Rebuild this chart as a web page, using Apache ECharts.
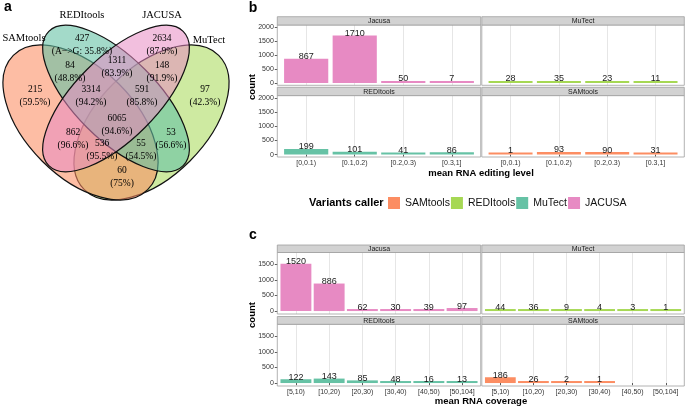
<!DOCTYPE html>
<html><head><meta charset="utf-8">
<script src="https://cdn.jsdelivr.net/npm/echarts@6/dist/echarts.min.js"></script>
<style>html,body{margin:0;padding:0;background:#fff}#chart{width:685px;height:407px}</style>
</head><body><div id="chart"></div>
<script>
// ---------------- data ----------------
const callers = ['SAMtools', 'REDItools', 'MuTect', 'JACUSA'];
// Venn (panel a)
const vennSetNames = ['SAMtools', 'REDItools', 'JACUSA', 'MuTect'];
const vennCounts = ['427', '2634', '84', '1311', '148', '215', '3314', '591', '97', '6065', '862', '53', '536', '55', '60'];
const vennPercents = ['(A\u2212>G: 35.8%)', '(87.9%)', '(48.8%)', '(83.9%)', '(91.9%)', '(59.5%)', '(94.2%)', '(85.8%)', '(42.3%)', '(94.6%)', '(96.6%)', '(56.6%)', '(95.5%)', '(54.5%)', '(75%)'];
// panel b: mean RNA editing level
const editLevels = ['[0,0.1)', '[0.1,0.2)', '[0.2,0.3)', '[0.3,1]'];
const editJacusa = [867, 1710, 50, 7];
const editMuTect = [28, 35, 23, 11];
const editREDItools = [199, 101, 41, 86];
const editSAMtools = [1, 93, 90, 31];
const editTicks = [0, 500, 1000, 1500, 2000];
// panel c: mean RNA coverage
const covLevels = ['[5,10)', '[10,20)', '[20,30)', '[30,40)', '[40,50)', '[50,104]'];
const covJacusa = [1520, 886, 62, 30, 39, 97];
const covMuTect = [44, 36, 9, 4, 3, 1];
const covREDItools = [122, 143, 85, 48, 16, 13];
const covSAMtools = [186, 26, 2, 1, null, null];
const covTicks = [0, 500, 1000, 1500];

// ---------------- layout / style ----------------
const SANS = '"Liberation Sans", Arial, sans-serif';
const SERIF = '"Liberation Serif", "Times New Roman", serif';
const legendColors = {SAMtools: '#fc8d62', REDItools: '#a6d854', MuTect: '#66c2a5', JACUSA: '#e78ac3'};
const barColors = {Jacusa: '#e78ac3', MuTect: '#a6d854', REDItools: '#66c2a5', SAMtools: '#fc8d62'};

// drawing order: MuTect, SAMtools, REDItools, JACUSA
const vennEllipses = [
  {x: 151.5, y: 122.5, rx: 95, ry: 54.4, rot: Math.PI / 4, fill: 'rgba(166,216,84,0.55)'},
  {x: 80.5, y: 122.5, rx: 95, ry: 54.4, rot: -Math.PI / 4, fill: 'rgba(252,141,98,0.58)'},
  {x: 116, y: 98.5, rx: 95, ry: 41, rot: -Math.PI / 4, fill: 'rgba(102,194,165,0.6)'},
  {x: 116, y: 98.5, rx: 95, ry: 41, rot: Math.PI / 4, fill: 'rgba(231,138,195,0.55)'}
];
const vennNamePos = [[24, 38], [82, 15], [162, 15], [209, 40]];
const vennLabelPos = [[82, 38], [162, 38], [70, 65], [117, 60], [162, 65], [35, 89], [91, 89], [142, 89], [205, 89], [117, 118], [73, 132], [171, 132], [102, 143], [141, 143], [122, 170]];

const cols = [[277.3, 480.7], [481.8, 684.3]];
const bRows = [{strip: [16.7, 25], plot: [25, 85.3]}, {strip: [87.3, 95.6], plot: [95.6, 157]}];
const cRows = [{strip: [245, 252.5], plot: [252.5, 314]}, {strip: [316.5, 324.3], plot: [324.3, 386]}];

const panels = [
  {title: 'Jacusa', cats: editLevels, data: editJacusa, row: bRows[0], col: 0, bottom: false, margin: 4.6, gap: '9%', min: -85, max: 2085, ticks: editTicks},
  {title: 'MuTect', cats: editLevels, data: editMuTect, row: bRows[0], col: 1, bottom: false, margin: 4.6, gap: '9%', min: -85, max: 2085, ticks: editTicks},
  {title: 'REDItools', cats: editLevels, data: editREDItools, row: bRows[1], col: 0, bottom: true, margin: 4.6, gap: '9%', min: -85, max: 2085, ticks: editTicks},
  {title: 'SAMtools', cats: editLevels, data: editSAMtools, row: bRows[1], col: 1, bottom: true, margin: 4.6, gap: '9%', min: -85, max: 2085, ticks: editTicks},
  {title: 'Jacusa', cats: covLevels, data: covJacusa, row: cRows[0], col: 0, bottom: false, margin: 2, gap: '7%', min: -95, max: 1885, ticks: covTicks},
  {title: 'MuTect', cats: covLevels, data: covMuTect, row: cRows[0], col: 1, bottom: false, margin: 2, gap: '7%', min: -95, max: 1885, ticks: covTicks},
  {title: 'REDItools', cats: covLevels, data: covREDItools, row: cRows[1], col: 0, bottom: true, margin: 2, gap: '7%', min: -95, max: 1885, ticks: covTicks},
  {title: 'SAMtools', cats: covLevels, data: covSAMtools, row: cRows[1], col: 1, bottom: true, margin: 2, gap: '7%', min: -95, max: 1885, ticks: covTicks}
];
const seriesNameOf = {Jacusa: 'JACUSA', MuTect: 'MuTect', REDItools: 'REDItools', SAMtools: 'SAMtools'};

function txt(text, x, y, font, opts) {
  opts = opts || {};
  return {
    type: 'text', x: x, y: y, rotation: opts.rotation || 0, z: 10,
    style: {text: text, font: font, fill: opts.fill || '#000',
      textAlign: opts.align || 'center', align: opts.align || 'center',
      textVerticalAlign: 'middle', verticalAlign: 'middle'}
  };
}

const grids = [], xAxes = [], yAxes = [], series = [], graphics = [];

panels.forEach((p, i) => {
  const x0 = cols[p.col][0], x1 = cols[p.col][1];
  const pt = p.row.plot[0], pb = p.row.plot[1];
  const st = p.row.strip[0], sb = p.row.strip[1];
  grids.push({left: x0 + p.margin, top: pt, width: (x1 - x0) - 2 * p.margin, height: pb - pt, containLabel: false});
  xAxes.push({
    gridIndex: i, type: 'category', data: p.cats,
    axisLine: {show: false},
    axisTick: {show: p.bottom, alignWithLabel: true, length: 2, lineStyle: {color: '#333', width: 0.8}},
    axisLabel: {show: p.bottom, interval: 0, fontSize: 7, color: '#333', margin: 3, fontFamily: SANS},
    splitLine: {show: true, alignWithLabel: true, lineStyle: {color: '#e6e6e6', width: 1}}
  });
  yAxes.push({
    gridIndex: i, type: 'value', min: p.min, max: p.max, offset: p.margin,
    axisLine: {show: false},
    axisTick: {show: p.col === 0, length: 2.5, customValues: p.ticks, lineStyle: {color: '#333', width: 0.8}},
    axisLabel: {show: p.col === 0, customValues: p.ticks, fontSize: 7, color: '#333', margin: 3.5, fontFamily: SANS,
      formatter: v => String(v)},
    splitLine: {show: false}
  });
  series.push({
    type: 'bar', name: seriesNameOf[p.title], xAxisIndex: i, yAxisIndex: i, data: p.data,
    barCategoryGap: p.gap, barMinHeight: 2,
    itemStyle: {color: barColors[p.title]},
    label: {show: true, position: 'top', distance: -2.5, fontSize: 9, color: '#1a1a1a', fontFamily: SANS},
    z: 3
  });
  graphics.push({type: 'rect', z: 5, shape: {x: x0, y: pt, width: x1 - x0, height: pb - pt},
    style: {fill: 'none', stroke: '#a0a0a0', lineWidth: 0.8}});
  graphics.push({type: 'rect', z: 5, shape: {x: x0, y: st, width: x1 - x0, height: sb - st},
    style: {fill: '#d2d2d2', stroke: '#a0a0a0', lineWidth: 0.8}});
  graphics.push(txt(p.title, (x0 + x1) / 2, (st + sb) / 2 + 0.3, '7px ' + SANS, {fill: '#1a1a1a'}));
});

// Venn ellipses
vennEllipses.forEach(e => {
  graphics.push({type: 'ellipse', x: e.x, y: e.y, rotation: e.rot, z: 1,
    shape: {cx: 0, cy: 0, rx: e.rx, ry: e.ry},
    style: {fill: e.fill, stroke: '#111', lineWidth: 1.2}});
});
vennSetNames.forEach((n, i) => graphics.push(txt(n, vennNamePos[i][0], vennNamePos[i][1], '10.5px ' + SERIF)));
vennCounts.forEach((c, i) => {
  graphics.push(txt(c, vennLabelPos[i][0], vennLabelPos[i][1], '9.5px ' + SERIF));
  graphics.push(txt(vennPercents[i], vennLabelPos[i][0], vennLabelPos[i][1] + 13, '9.5px ' + SERIF));
});

// panel letters & axis titles
graphics.push(txt('a', 8, 7, 'bold 14px ' + SANS));
graphics.push(txt('b', 253, 8, 'bold 14px ' + SANS));
graphics.push(txt('c', 253, 235, 'bold 14px ' + SANS));
graphics.push(txt('mean RNA editing level', 481, 173, 'bold 9.5px ' + SANS));
graphics.push(txt('mean RNA coverage', 481, 401.5, 'bold 9.5px ' + SANS));
graphics.push(txt('count', 252, 87, 'bold 9.5px ' + SANS, {rotation: Math.PI / 2}));
graphics.push(txt('count', 252, 315, 'bold 9.5px ' + SANS, {rotation: Math.PI / 2}));
graphics.push(txt('Variants caller', 309, 203, 'bold 11px ' + SANS, {align: 'left'}));

const option = {
  animation: false,
  backgroundColor: '#fff',
  legend: {
    left: 388, top: 197, padding: 0, itemWidth: 12, itemHeight: 12, itemGap: 1, icon: 'rect',
    textStyle: {fontSize: 10.5, color: '#111', fontFamily: SANS},
    data: callers.map(c => ({name: c, itemStyle: {color: legendColors[c]}}))
  },
  grid: grids, xAxis: xAxes, yAxis: yAxes, series: series,
  graphic: {elements: graphics}
};
const chart = echarts.init(document.getElementById('chart'), null, {renderer: 'canvas'});
chart.setOption(option);
</script></body></html>
